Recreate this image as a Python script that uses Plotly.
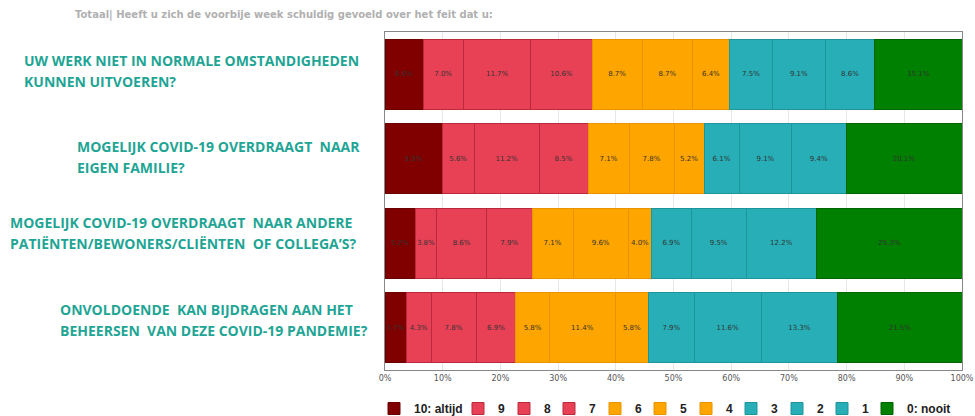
import plotly.graph_objects as go

categories = [
    "UW WERK NIET IN NORMALE OMSTANDIGHEDEN<br>KUNNEN UITVOEREN?",
    "MOGELIJK COVID-19 OVERDRAAGT  NAAR<br>EIGEN FAMILIE?",
    "MOGELIJK COVID-19 OVERDRAAGT  NAAR ANDERE<br>PATIËNTEN/BEWONERS/CLIËNTEN  OF COLLEGA’S?",
    "ONVOLDOENDE  KAN BIJDRAGEN AAN HET<br>BEHEERSEN  VAN DEZE COVID-19 PANDEMIE?",
]
series_names = ["10: altijd", "9", "8", "7", "6", "5", "4", "3", "2", "1", "0: nooit"]
values = {
    "10: altijd": [6.6, 9.9, 5.2, 3.7],
    "9": [7.0, 5.6, 3.8, 4.3],
    "8": [11.7, 11.2, 8.6, 7.8],
    "7": [10.6, 8.5, 7.9, 6.9],
    "6": [8.7, 7.1, 7.1, 5.8],
    "5": [8.7, 7.8, 9.6, 11.4],
    "4": [6.4, 5.2, 4.0, 5.8],
    "3": [7.5, 6.1, 6.9, 7.9],
    "2": [9.1, 9.1, 9.5, 11.6],
    "1": [8.6, 9.4, 12.2, 13.3],
    "0: nooit": [15.1, 20.1, 25.3, 21.5],
}
tick_vals = [0, 10, 20, 30, 40, 50, 60, 70, 80, 90, 100]
tick_text = [f"{v}%" for v in tick_vals]
title_text = "Totaal| Heeft u zich de voorbije week schuldig gevoeld over het feit dat u:"

fill = {
    "10: altijd": "#800000", "9": "#e84155", "8": "#e84155", "7": "#e84155",
    "6": "#ffa500", "5": "#ffa500", "4": "#ffa500",
    "3": "#27aeb6", "2": "#27aeb6", "1": "#27aeb6", "0: nooit": "#008000",
}
edge = {
    "10: altijd": "#6a0000", "9": "#b82a3c", "8": "#b82a3c", "7": "#b82a3c",
    "6": "#e89400", "5": "#e89400", "4": "#e89400",
    "3": "#1e949c", "2": "#1e949c", "1": "#1e949c", "0: nooit": "#006400",
}

L, R, T, B = 385, 13, 32, 46
W, H = 975, 416
pw = W - L - R
ph = H - T - B

# legend square left edges (px) for each entry, one legend box per series
legend_square_px = [388, 472, 518, 563, 609, 654, 700, 745, 791, 836, 881]

fig = go.Figure()
legend_layouts = {}
for k, name in enumerate(series_names):
    lname = "legend" if k == 0 else f"legend{k + 1}"
    fig.add_trace(go.Bar(
        name=f"<b>{name}</b>", y=list(range(len(categories))), x=values[name], orientation="h",
        marker=dict(color=fill[name], line=dict(color=edge[name], width=1)),
        width=0.83, legend=lname,
        texttemplate="%{x:.1f}%", textposition="inside", insidetextanchor="middle",
        textangle=0, constraintext="none",
        textfont=dict(size=7, color="#333333", family="DejaVu Sans"),
    ))
    legend_layouts[lname] = dict(
        orientation="h", xref="container", yref="container",
        x=(legend_square_px[k] - 14) / W, xanchor="left",
        y=1 - 394 / H, yanchor="top", bgcolor="rgba(0,0,0,0)",
        font=dict(size=12, color="#222222", family="Liberation Sans"),
        itemwidth=30,
    )

fig.update_layout(
    barmode="stack", width=W, height=H,
    margin=dict(l=L, r=R, t=T, b=B, autoexpand=False),
    plot_bgcolor="white", paper_bgcolor="white",
    showlegend=True,
    xaxis=dict(range=[0, 100], tickvals=tick_vals, ticktext=tick_text,
               showgrid=True, gridcolor="#e6e6e6", gridwidth=1,
               showline=True, linecolor="#888888", mirror=True,
               tickfont=dict(size=8, color="#555555", family="DejaVu Sans"),
               ticks="", zeroline=False, fixedrange=True),
    yaxis=dict(range=[3.5, -0.5], showticklabels=False, showgrid=False,
               showline=True, linecolor="#888888", mirror=True, zeroline=False),
    **legend_layouts,
)

# Category labels: each line placed separately (left-aligned blocks)
label_left_px = [22, 75, 8, 58]
label_offset = [-0.044, -0.015, -0.127, -0.092]  # category units
line_step = 0.2485  # ~21 px in category units
for i, cat in enumerate(categories):
    lines = cat.split("<br>")
    for j, ln in enumerate(lines):
        fig.add_annotation(
            text=f"<b>{ln}</b>", xref="paper", yref="y",
            x=(label_left_px[i] - L) / pw, y=i + label_offset[i] + (j - 0.5) * line_step,
            xanchor="left", yanchor="middle", align="left", showarrow=False,
            font=dict(size=14, color="#1fa595", family="Open Sans"),
        )

fig.add_annotation(
    text=f"<b>{title_text}</b>", xref="paper", yref="paper",
    x=(284 - L) / pw, y=1 + (T - 15) / ph, xanchor="center", yanchor="middle",
    showarrow=False, font=dict(size=10, color="#b0b0b0", family="DejaVu Sans"),
)

fig.write_html("out.html", config={"displayModeBar": False},
               post_script="document.body.style.margin='0';")
